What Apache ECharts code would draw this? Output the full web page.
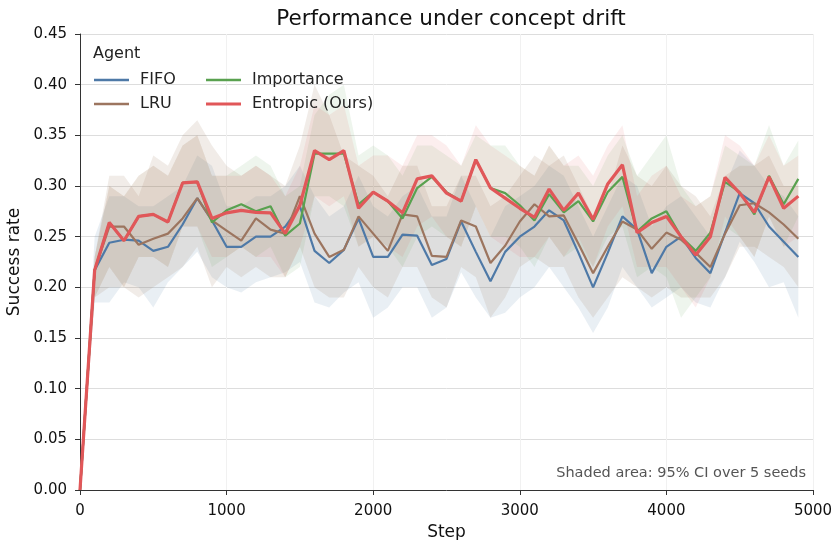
<!DOCTYPE html>
<html>
<head>
<meta charset="utf-8">
<script src="https://cdn.jsdelivr.net/npm/echarts@6/dist/echarts.min.js"></script>
<style>
html,body{margin:0;padding:0;background:#fff;}
#chart{width:834px;height:540px;}
</style>
</head>
<body>
<div id="chart"></div>
<script>
const steps = [0,100,200,300,400,500,600,700,800,900,1000,1100,1200,1300,1400,1500,1600,1700,1800,1900,2000,2100,2200,2300,2400,2500,2600,2700,2800,2900,3000,3100,3200,3300,3400,3500,3600,3700,3800,3900,4000,4100,4200,4300,4400,4500,4600,4700,4800,4900];

const fifoMean = [0,0.217,0.244,0.247,0.246,0.236,0.240,0.262,0.288,0.266,0.240,0.240,0.250,0.250,0.260,0.280,0.236,0.224,0.237,0.268,0.230,0.230,0.252,0.251,0.222,0.228,0.265,0.235,0.206,0.235,0.250,0.260,0.276,0.266,0.234,0.200,0.234,0.270,0.257,0.214,0.240,0.250,0.229,0.214,0.254,0.293,0.283,0.260,0.245,0.230];
const fifoUpper = [0,0.25,0.29,0.29,0.28,0.28,0.29,0.30,0.33,0.32,0.28,0.28,0.29,0.29,0.30,0.32,0.29,0.27,0.28,0.31,0.28,0.27,0.29,0.30,0.27,0.27,0.31,0.28,0.25,0.28,0.29,0.30,0.32,0.31,0.28,0.25,0.28,0.31,0.30,0.26,0.28,0.29,0.27,0.25,0.30,0.335,0.32,0.30,0.29,0.27];
const fifoLower = [0,0.185,0.185,0.205,0.20,0.18,0.205,0.22,0.235,0.21,0.20,0.195,0.205,0.21,0.215,0.225,0.185,0.18,0.195,0.205,0.17,0.18,0.20,0.20,0.17,0.18,0.215,0.19,0.17,0.175,0.19,0.20,0.22,0.20,0.18,0.155,0.18,0.22,0.20,0.18,0.19,0.20,0.185,0.18,0.21,0.245,0.225,0.20,0.205,0.17];

const lruMean = [0,0.217,0.260,0.260,0.242,0.248,0.253,0.268,0.288,0.266,0.256,0.246,0.268,0.257,0.253,0.290,0.253,0.230,0.237,0.270,0.253,0.236,0.272,0.270,0.231,0.230,0.266,0.260,0.224,0.241,0.265,0.282,0.270,0.271,0.243,0.214,0.240,0.265,0.257,0.238,0.254,0.247,0.234,0.220,0.253,0.281,0.283,0.274,0.262,0.248];
const lruUpper = [0,0.23,0.31,0.31,0.29,0.33,0.32,0.35,0.365,0.34,0.32,0.31,0.32,0.31,0.30,0.34,0.40,0.37,0.33,0.32,0.31,0.29,0.32,0.32,0.28,0.28,0.31,0.31,0.28,0.29,0.31,0.33,0.32,0.33,0.30,0.27,0.29,0.34,0.31,0.30,0.32,0.30,0.29,0.27,0.31,0.32,0.32,0.33,0.30,0.30];
const lruLower = [0,0.19,0.20,0.20,0.19,0.20,0.21,0.22,0.24,0.20,0.22,0.21,0.22,0.21,0.21,0.24,0.20,0.19,0.19,0.22,0.20,0.19,0.22,0.22,0.19,0.18,0.22,0.21,0.17,0.19,0.22,0.23,0.22,0.22,0.19,0.17,0.19,0.21,0.20,0.19,0.20,0.19,0.19,0.19,0.21,0.24,0.24,0.23,0.22,0.20];

const impMean = [0,0.217,0.264,0.246,0.270,0.272,0.2645,0.303,0.304,0.264,0.276,0.282,0.275,0.280,0.251,0.263,0.332,0.332,0.332,0.282,0.294,0.285,0.268,0.298,0.309,0.294,0.285,0.326,0.298,0.293,0.281,0.266,0.292,0.274,0.285,0.265,0.294,0.309,0.255,0.268,0.275,0.250,0.236,0.254,0.304,0.294,0.272,0.310,0.282,0.307];
const impUpper = [0,0.23,0.30,0.29,0.31,0.32,0.31,0.34,0.35,0.31,0.31,0.32,0.33,0.32,0.29,0.30,0.37,0.39,0.40,0.33,0.34,0.33,0.31,0.34,0.34,0.33,0.32,0.35,0.34,0.34,0.32,0.31,0.34,0.32,0.32,0.30,0.33,0.35,0.31,0.33,0.35,0.30,0.28,0.29,0.34,0.33,0.32,0.36,0.32,0.345];
const impLower = [0,0.19,0.22,0.20,0.23,0.23,0.22,0.26,0.26,0.22,0.23,0.24,0.23,0.24,0.21,0.22,0.29,0.29,0.28,0.24,0.25,0.24,0.22,0.25,0.26,0.25,0.24,0.28,0.25,0.25,0.24,0.22,0.25,0.23,0.24,0.22,0.25,0.26,0.21,0.22,0.21,0.17,0.19,0.21,0.26,0.25,0.23,0.27,0.24,0.27];

const entMean = [0,0.217,0.264,0.246,0.270,0.272,0.2645,0.303,0.304,0.268,0.2735,0.276,0.274,0.2735,0.253,0.281,0.335,0.326,0.335,0.278,0.294,0.285,0.2735,0.307,0.310,0.293,0.285,0.326,0.298,0.288,0.278,0.269,0.297,0.276,0.293,0.267,0.302,0.321,0.254,0.264,0.270,0.250,0.232,0.250,0.3085,0.293,0.274,0.309,0.278,0.290];
const entUpper = [0,0.23,0.30,0.29,0.31,0.32,0.31,0.34,0.35,0.31,0.31,0.31,0.32,0.31,0.29,0.32,0.38,0.37,0.38,0.32,0.33,0.33,0.32,0.35,0.35,0.34,0.32,0.36,0.34,0.33,0.32,0.31,0.34,0.32,0.33,0.31,0.34,0.36,0.29,0.31,0.32,0.29,0.28,0.29,0.35,0.34,0.32,0.35,0.32,0.33];
const entLower = [0,0.19,0.22,0.20,0.23,0.23,0.22,0.26,0.26,0.23,0.23,0.24,0.23,0.23,0.21,0.24,0.29,0.28,0.29,0.24,0.25,0.24,0.23,0.26,0.27,0.25,0.24,0.28,0.25,0.24,0.23,0.23,0.25,0.23,0.25,0.22,0.26,0.28,0.22,0.22,0.22,0.20,0.18,0.21,0.27,0.25,0.23,0.27,0.24,0.25];

const yTicks = [0,0.05,0.10,0.15,0.20,0.25,0.30,0.35,0.40,0.45];
const xTicks = [0,1000,2000,3000,4000,5000];

const agents = [
  {name:'FIFO', color:'#4e79a7', width:2.2, mean:fifoMean, lo:fifoLower, hi:fifoUpper, alpha:0.12},
  {name:'LRU', color:'#9c755f', width:2.2, mean:lruMean, lo:lruLower, hi:lruUpper, alpha:0.14},
  {name:'Importance', color:'#59a14f', width:2.2, mean:impMean, lo:impLower, hi:impUpper, alpha:0.10},
  {name:'Entropic (Ours)', color:'#e15759', width:3.2, mean:entMean, lo:entLower, hi:entUpper, alpha:0.10}
];

const FONT = 'DejaVu Sans';
const series = [];
agents.forEach((a, k) => {
  series.push({
    name: a.name + ' band', type:'custom', silent:true, z:1, clip:true,
    data:[[steps[0], a.lo[0]]],
    encode:{x:0, y:1},
    renderItem:(params, api) => {
      const pts = [];
      for (let i = 0; i < steps.length; i++) pts.push(api.coord([steps[i], a.hi[i]]));
      for (let i = steps.length - 1; i >= 0; i--) pts.push(api.coord([steps[i], a.lo[i]]));
      return {type:'polygon', shape:{points:pts}, style:{fill:a.color, opacity:a.alpha}};
    }
  });
});
agents.forEach((a, k) => {
  series.push({
    name: a.name, type:'line', symbol:'none', showSymbol:false,
    data: steps.map((s,i)=>[s, a.mean[i]]),
    lineStyle:{color:a.color, width:a.width}, itemStyle:{color:a.color},
    z: 3 + k
  });
});

function leg(name, left, top){
  return {
    data:[name], left:left, top:top, icon:'rect', itemWidth:35,
    itemHeight: name==='Entropic (Ours)' ? 3.2 : 2.3,
    textStyle:{fontFamily:FONT, fontSize:16, color:'#222', padding:[0,0,0,6]},
    selectedMode:false
  };
}

const chart = echarts.init(document.getElementById('chart'), null, {renderer:'canvas'});
chart.setOption({
  animation:false,
  backgroundColor:'#ffffff',
  title:{
    text:'Performance under concept drift', left:446, top:3, textAlign:'center',
    textStyle:{fontFamily:FONT, fontSize:21.5, fontWeight:'normal', color:'#111'}
  },
  grid:{left:80, right:21, top:34, bottom:50, containLabel:false, outerBoundsMode:'none'},
  legend:[
    leg('FIFO', 89, 67),
    leg('LRU', 89, 91),
    leg('Importance', 201, 67),
    leg('Entropic (Ours)', 201, 91)
  ],
  graphic:[
    {type:'text', left:93, top:46, style:{text:'Agent', fontFamily:FONT, fontSize:16, fill:'#222'}},
    {type:'text', right:28, top:466, style:{text:'Shaded area: 95% CI over 5 seeds', fontFamily:FONT, fontSize:14.5, fill:'#555'}}
  ],
  xAxis:{
    type:'value', min:xTicks[0], max:xTicks[xTicks.length-1], interval:1000,
    name:'Step', nameLocation:'middle', nameGap:32,
    nameTextStyle:{fontFamily:FONT, fontSize:17, color:'#111'},
    axisLine:{show:true, lineStyle:{color:'#333', width:1}},
    axisTick:{show:true, length:5, lineStyle:{color:'#333'}},
    axisLabel:{fontFamily:FONT, fontSize:15, color:'#111', margin:14, formatter:v=>String(v)},
    splitLine:{show:true, lineStyle:{color:'#f1f1f1', width:1}}
  },
  yAxis:{
    type:'value', min:yTicks[0], max:yTicks[yTicks.length-1], interval:0.05,
    name:'Success rate', nameLocation:'middle', nameGap:54,
    nameTextStyle:{fontFamily:FONT, fontSize:17, color:'#111'},
    axisLine:{show:true, lineStyle:{color:'#333', width:1}},
    axisTick:{show:true, length:5, lineStyle:{color:'#333'}},
    axisLabel:{fontFamily:FONT, fontSize:15, color:'#111', margin:13, formatter:v=>v.toFixed(2)},
    splitLine:{show:true, lineStyle:{color:'#dddddd', width:1}}
  },
  series: series
});
</script>
</body>
</html>
